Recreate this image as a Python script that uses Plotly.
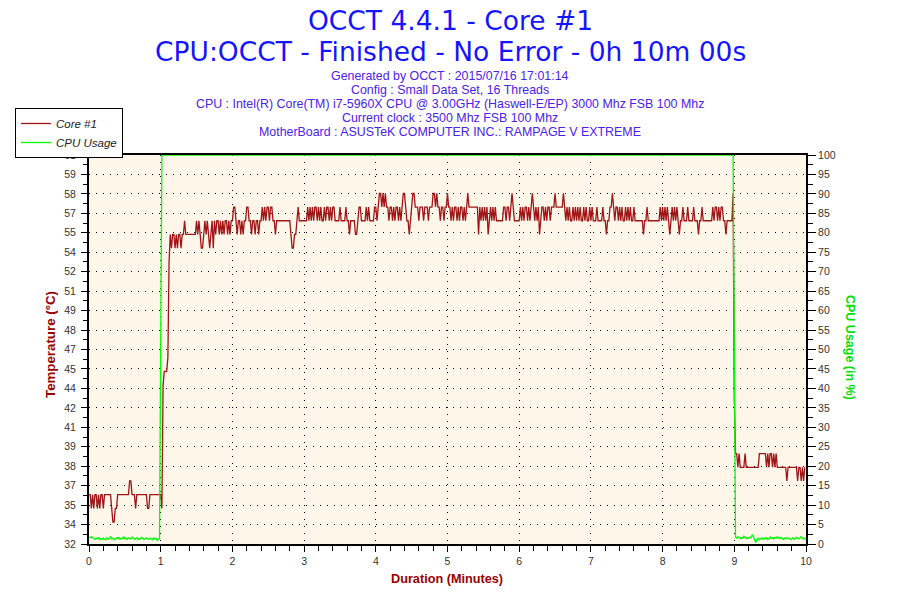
import plotly.graph_objects as go

# ---------------- data (one sample per second) ----------------
temp_min0 = [36,36,35,36,35,36,36,35,36,35, 36,36,35,36,36,36,36,36,36,35,
             34,34,35,35,36,36,36,36,36,36, 36,36,36,36,37,37,36,36,36,35,
             36,36,36,36,36,36,36,36,36,35, 35,36,36,36,36,36,36,36,36,36]
temp_min1 = [36,35,44,45,45,45,46,53,55,
             54,55,55,54,55,54,55,55,54,55,55,
             56,55, 55,55,55,55,55,55,55,55,
             56,55,56, 55,54,54, 55,56,55,56, 55,54,55,56,54,
             56,55,56,56,55,56,55,56,55,56,56,55,56,55,56]
temp_min2 = [56,57,57,
             56,55,56,56,55,56,55,56,56,57,
             57,56,
             56,55,56,56,55,56,56,55,56,56,
             57,56,57,56,57,57,56,57,57,56,
             56,55,56,56,56,56,
             56,56,56,56,56,56,56,56,
             55,54,54,55,
             55,56,57,56,56,56,56]
temp_min3 = [56,56,56,57,56,
             57,56,57,56,57,57,56,57,56,57,56,56,57,56,57,57,56,57,56,57,57,56,
             56,56,56,57,56,56,56,56,57,56,56,
             55,56,56,56,56,55,55,56,
             57,57,56,56,
             56,56,57,56,57,56,56,56,56,57]
temp_min4 = [57,56,57,58,58,57,58,57,58,57,
             57,56,57,57,56,57,56,57,57,56,57,56,57,
             58,58,57,56,
             56,55,56,57,
             58,58,57,
             57,57,56,57,57,57,56,57,57,57,56,57,57,57,
             58,58,57,58,57,
             57,56,57,57,56,57,57]
temp_min5 = [58,57,
             57,56,57,56,57,57,56,57,56,57,57,56,57,56,57,
             58,
             57,57,57,57,57,57,57,57,
             55,57,56,57,56,57,56,57,55,56,57,56,57,56,57,
             56,56,56,56,56,56,
             57,57,56,57,57,56,57,58,
             57,56,56,56,56]
temp_min6 = [56,57,56,57,56,57,57,56,57,56,57,
             58,
             57,56,57,56,57,
             55,
             56,57,57,56,57,56,57,57,56,57,57,57,
             58,
             57,57,57,57,57,57,
             58,
             57,56,57,56,57,56,56,57,56,57,56,57,56,57,56,56,57,56,57,56,56,57]
temp_min7 = [56,57,56,56,56,57,56,56,56,56,57,56,56,
             55,
             56,56,57,57,
             58,
             57,56,57,57,56,57,56,57,56,56,57,56,57,56,57,56,56,57,56,
             56,56,56,56,56,56,
             55,
             56,56,57,56,56,56,56,56,56,56,56,56,56,57,56]
temp_min8 = [57,56,57,56,57,56,
             55,
             56,57,56,57,56,57,56,
             55,
             56,56,57,56,56,56,57,56,56,56,56,57,56,56,56,
             55,
             56,56,57,56,56,56,56,56,56,56,56,
             57,56,57,57,56,57,56,57,57,56,56,
             55,
             56,56,56,56,56,
             58]
temp_min9 = [43,
             39,39,
             38,39,38,
             38,38,38,39,
             38,38,38,38,38,38,38,38,38,38,38,
             39,39,39,39,39,39,
             38,39,38,39,39,38,39,38,39,38,38,
             38,38,38,38,38,38,
             37,
             38,38,38,38,38,38,38,38,
             37,
             38,38,
             37,
             38,37,38]

cpu_idle_before = [1.8,1.6,1.9,1.5,1.4,1.2,1.5,1.3,1.6,1.1, 1.4,1.2,1.5,1.3,1.1,1.6,1.2,1.4,1.8,1.3,
                   1.5,1.1,1.4,1.6,1.3,1.7,1.2,1.5,1.4,1.9, 1.3,1.5,1.2,1.6,1.4,1.3,1.8,1.5,1.2,1.4,
                   1.6,1.1,1.4,1.3,1.7,1.5,1.2,1.4,1.6,1.3, 1.2,1.5,1.4,1.1,1.6,1.3,1.5,0.9,1.2,1.3]
cpu_ramp_up = [51]
cpu_full_load = 100
cpu_full_load_seconds = 479
cpu_ramp_down = [51]
cpu_idle_after = [1.8,1.5,1.9,1.6,1.4,1.7,1.5,2.0,1.6,1.4, 1.7,1.5,1.8,1.6,2.3,1.9,1.0,0.4,1.2,1.5,
                  1.1,1.4,1.6,1.2,1.5,1.3,1.6,1.1,1.5,1.8, 1.4,1.6,1.3,1.7,1.5,1.9,1.6,1.4,1.7,1.5,
                  1.2,1.5,1.3,1.6,1.4,1.5,1.1,1.3,1.6,1.2, 1.4,1.7,1.5,1.3,1.6,1.9,1.4,1.6,1.2,1.5]

temp_tick_labels = ["32","34","35","37","38","39","41","42","44","45","47",
                    "48","49","51","52","54","55","57","58","59","61"]
cpu_tick_labels = [str(v) for v in range(0, 101, 5)]

title_line1 = "OCCT 4.4.1 - Core #1"
title_line2 = "CPU:OCCT - Finished - No Error - 0h 10m 00s"
info_lines = ["Generated by OCCT : 2015/07/16 17:01:14",
              "Config : Small Data Set, 16 Threads",
              "CPU : Intel(R) Core(TM) i7-5960X CPU @ 3.00GHz (Haswell-E/EP) 3000 Mhz FSB 100 Mhz",
              "Current clock : 3500 Mhz FSB 100 Mhz",
              "MotherBoard : ASUSTeK COMPUTER INC.: RAMPAGE V EXTREME"]

# ---------------- build series ----------------
temperature = (temp_min0 + temp_min1 + temp_min2 + temp_min3 + temp_min4 +
               temp_min5 + temp_min6 + temp_min7 + temp_min8 + temp_min9)
cpu_usage = (cpu_idle_before + cpu_ramp_up + [cpu_full_load] * cpu_full_load_seconds +
             cpu_ramp_down + cpu_idle_after)
t_temp = [i / 60 for i in range(len(temperature))]
t_cpu = [i / 60 for i in range(len(cpu_usage))]

# left axis mapping: 0..100 % of height <-> 32.4..60.8 degC
T_LO, T_HI = 32.4, 60.8
temp_tickvals = [T_LO + (T_HI - T_LO) * k / 20 for k in range(21)]
temp_minorvals = [T_LO + (T_HI - T_LO) * (k + 0.5) / 20 for k in range(20)]

BROWN = "#A01515"
GREEN = "#00FF00"
AXTITLE = "#990000"
FONT = "Liberation Sans"
TITLE_FONT = "DejaVu Sans"

# page has an 8px body margin -> figure is 892x592 drawn at (8, 8)
OFF = 8
W, H = 892, 592
ML, MR, MT, MB = 81, 94, 147, 56
PW, PH = W - ML - MR, H - MT - MB


def px(page_x):
    return (page_x - OFF - ML) / PW


def py(page_y):
    return (H - MB - (page_y - OFF)) / PH


fig = go.Figure()
fig.add_trace(go.Scatter(x=t_temp, y=temperature, name="Core #1", mode="lines",
                         line=dict(color=BROWN, width=1.3), yaxis="y"))
fig.add_trace(go.Scatter(x=t_cpu, y=cpu_usage, name="CPU Usage", mode="lines",
                         line=dict(color=GREEN, width=1.3), yaxis="y2"))

tickfont = dict(family=FONT, size=10.5, color="#333333")
grid = dict(showgrid=True, gridcolor="black", gridwidth=1, griddash="1px,6px")

fig.update_layout(
    width=W, height=H,
    margin=dict(l=ML, r=MR, t=MT, b=MB, pad=0, autoexpand=False),
    paper_bgcolor="white",
    plot_bgcolor="#FDF6E9",
    font=dict(family=FONT),
    showlegend=True,
    legend=dict(xref="container", yref="container", x=(15 - OFF) / W, y=1 - (108 - OFF) / H,
                xanchor="left", yanchor="top",
                bgcolor="white", bordercolor="black", borderwidth=1,
                font=dict(family=FONT, size=11.5, color="#222222", style="italic"),
                itemwidth=30, tracegroupgap=0),
    xaxis=dict(range=[0, 10], tickmode="linear", tick0=0, dtick=1,
               ticks="outside", ticklen=6, tickwidth=1, tickcolor="black",
               minor=dict(dtick=0.2, ticks="outside", ticklen=5, tickcolor="black"),
               showline=True, linecolor="black", linewidth=2, mirror=True,
               zeroline=False, tickfont=tickfont, automargin=False, **grid),
    yaxis=dict(range=[T_LO, T_HI], tickmode="array", tickvals=temp_tickvals,
               ticktext=temp_tick_labels, ticks="outside", ticklen=6, tickcolor="black",
               ticklabelstandoff=3,
               minor=dict(tickvals=temp_minorvals, ticks="outside", ticklen=4, tickcolor="black"),
               showline=True, linecolor="black", linewidth=2, zeroline=False,
               showgrid=False, tickfont=tickfont, automargin=False),
    yaxis2=dict(range=[0, 100], overlaying="y", side="right", tickmode="array",
                tickvals=list(range(0, 101, 5)), ticktext=cpu_tick_labels,
                ticks="outside", ticklen=8, tickcolor="black",
                minor=dict(dtick=2.5, ticks="outside", ticklen=5, tickcolor="black"),
                showline=True, linecolor="black", linewidth=2, zeroline=False,
                tickfont=tickfont, automargin=False, **grid),
)

ann = []


def text(s, x, y, size, color, angle=0, height=None, family=FONT):
    a = dict(text=s, xref="paper", yref="paper", x=px(x), y=py(y),
             xanchor="center", yanchor="middle", textangle=angle,
             showarrow=False, font=dict(family=family, size=size, color=color))
    if height is not None:
        a["height"] = height
    ann.append(a)


text(title_line1, 450, 19.5, 26.5, "#1414FF", height=22, family=TITLE_FONT)
text(title_line2, 450, 50.5, 26.5, "#1414FF", height=22, family=TITLE_FONT)
for i, line in enumerate(info_lines):
    text(line, 450, 76 + 14.1 * i, 12.4, "#4A22E8")
text("<b>Temperature (°C)</b>", 50, 345, 13.3, AXTITLE, -90)
text("<b>CPU Usage (in %)</b>", 850, 347, 12.5, "#00E000", 90)
text("<b>Duration (Minutes)</b>", 447, 579, 12.7, AXTITLE)
fig.update_layout(annotations=ann)

fig.write_html("out.html")
